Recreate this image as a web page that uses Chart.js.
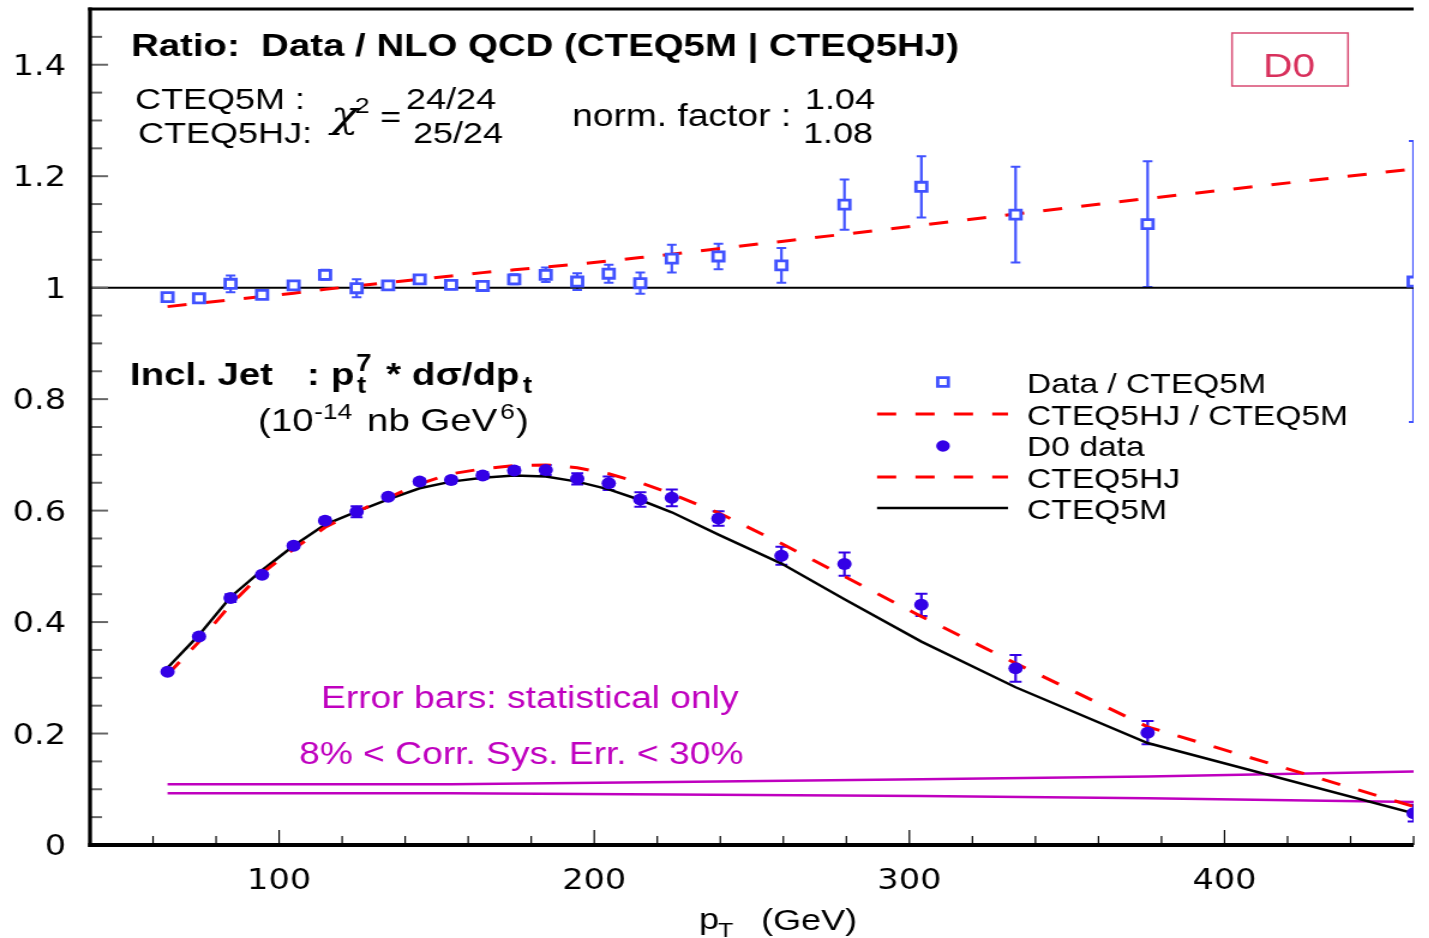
<!DOCTYPE html>
<html>
<head>
<meta charset="utf-8">
<title>D0 inclusive jet cross section / NLO QCD</title>
<script src="https://cdn.jsdelivr.net/npm/chart.js@4.4.0/dist/chart.umd.min.js"></script>
<style>
  html, body { margin: 0; padding: 0; background: #fff; overflow: hidden; }
  /* the original picture is stretched horizontally, so draw narrow and stretch */
  #wrap { width: 1191px; height: 938px; transform: scaleX(1.2); transform-origin: 0 0; }
</style>
</head>
<body>
<div id="wrap"><canvas id="chart" width="1191" height="938"></canvas></div>
<script>
// ---- data ----
// bin centres (GeV)
const ptBins = [64.6, 74.6, 84.6, 94.6, 104.6, 114.6, 124.6, 134.6, 144.6, 154.6, 164.6, 174.6,
                184.6, 194.6, 204.6, 214.6, 224.6, 239.4, 259.4, 279.4, 303.8, 333.7, 375.6, 460];

// Data / CTEQ5M (open squares)
const ratioData = [0.983, 0.981, 1.007, 0.987, 1.004, 1.023, 0.999, 1.004, 1.015, 1.005, 1.003, 1.015,
                   1.023, 1.011, 1.025, 1.008, 1.052, 1.056, 1.040, 1.149, 1.181, 1.131, 1.114, 1.011];
const ratioErr  = [0.004, 0.007, 0.015, 0.004, 0.007, 0.009, 0.016, 0.004, 0.007, 0.008, 0.009, 0.009,
                   0.013, 0.015, 0.016, 0.019, 0.025, 0.023, 0.031, 0.045, 0.055, 0.086, 0.113, 0.252];

// D0 data: pt^7 * dsigma/dpt (1e-14 nb GeV^6)
const d0Data = [0.311, 0.374, 0.443, 0.485, 0.537, 0.582, 0.598, 0.625, 0.652, 0.655, 0.663, 0.672,
                0.673, 0.657, 0.649, 0.620, 0.623, 0.586, 0.519, 0.504, 0.431, 0.317, 0.2016, 0.057];
const d0Err  = [0.002, 0.003, 0.007, 0.002, 0.004, 0.005, 0.010, 0.003, 0.005, 0.005, 0.006, 0.006,
                0.009, 0.010, 0.012, 0.013, 0.015, 0.013, 0.016, 0.021, 0.020, 0.024, 0.021, 0.015];

// NLO QCD predictions
const cteq5m  = [0.318, 0.377, 0.445, 0.493, 0.537, 0.575, 0.598, 0.620, 0.640, 0.652, 0.659, 0.663,
                 0.661, 0.652, 0.638, 0.619, 0.597, 0.557, 0.505, 0.441, 0.365, 0.283, 0.183, 0.057];
const cteq5hj = [0.306, 0.365, 0.431, 0.488, 0.531, 0.570, 0.598, 0.623, 0.648, 0.666, 0.675, 0.681,
                 0.682, 0.677, 0.666, 0.650, 0.630, 0.596, 0.541, 0.482, 0.410, 0.326, 0.212, 0.069];
const hjOverM = [0.966, 0.972, 0.978, 0.984, 0.990, 0.997, 1.003, 1.009, 1.015, 1.021, 1.027, 1.032,
                 1.037, 1.042, 1.048, 1.054, 1.060, 1.070, 1.083, 1.096, 1.112, 1.132, 1.160, 1.213];

// correlated systematic error band (magenta)
const sysPt    = [64.6, 154.6, 224.6, 303.8, 375.6, 460];
const sysUpper = [0.109, 0.109, 0.113, 0.118, 0.123, 0.132];
const sysLower = [0.093, 0.093, 0.0905, 0.088, 0.084, 0.077];

// reference line at ratio = 1
const unityPt  = [40, 460];
const unityVal = [1, 1];

const xTicks = [100, 200, 300, 400];
const xTickLabels = ['100', '200', '300', '400'];
const yTicks = [0, 0.2, 0.4, 0.6, 0.8, 1, 1.2, 1.4];
const yTickLabels = ['0', '0.2', '0.4', '0.6', '0.8', '1', '1.2', '1.4'];

// ---- styling ----
const S = 1.2;                 // horizontal stretch of the picture
const SQ_BLUE = '#4152ff';
const DOT_BLUE = '#3300e6';
const RED = '#ff0000';
const MAGENTA = '#bf00bf';
const D0_RED = '#d8305c';
const SANS = '"Liberation Sans", Arial, Helvetica, sans-serif';

const pts = (xs, ys) => xs.map((x, i) => ({ x: x, y: ys[i] }));

// error bars, drawn under the markers
const errorBars = {
  id: 'errorBars',
  beforeDatasetsDraw(chart) {
    const { ctx, chartArea: a, scales: { x, y } } = chart;
    ctx.save();
    ctx.beginPath();
    ctx.rect(a.left, a.top, a.right - a.left, a.bottom - a.top);
    ctx.clip();
    chart.data.datasets.forEach(ds => {
      if (!ds.errors) return;
      ctx.strokeStyle = ds.errColor;
      ds.data.forEach((p, i) => {
        const e = ds.errors[i];
        const px = x.getPixelForValue(p.x);
        const yLo = y.getPixelForValue(p.y - e);
        const yHi = y.getPixelForValue(p.y + e);
        ctx.lineWidth = 2.2;
        ctx.beginPath();
        ctx.moveTo(px, yLo); ctx.lineTo(px, yHi);
        ctx.stroke();
        ctx.lineWidth = 2;
        ctx.beginPath();
        ctx.moveTo(px - ds.capHalf, yLo); ctx.lineTo(px + ds.capHalf, yLo);
        ctx.moveTo(px - ds.capHalf, yHi); ctx.lineTo(px + ds.capHalf, yHi);
        ctx.stroke();
      });
    });
    ctx.restore();
  }
};

function txt(ctx, s, xImg, yBase, font, color, align) {
  ctx.font = font;
  ctx.fillStyle = color || '#000';
  ctx.textAlign = align || 'left';
  ctx.textBaseline = 'alphabetic';
  ctx.fillText(s, xImg / S, yBase);
}

// frame, inward ticks, legend and annotations
const decorations = {
  id: 'decorations',
  afterDraw(chart) {
    const { ctx, chartArea: a, scales: { x, y } } = chart;
    ctx.save();

    // x ticks (every 20 GeV, longer at 100s)
    ctx.strokeStyle = '#000';
    ctx.lineWidth = 1.2;
    for (let v = 60; v <= 460; v += 20) {
      const px = x.getPixelForValue(v);
      const len = v % 100 === 0 ? 15 : 9;
      ctx.beginPath();
      ctx.moveTo(px, a.bottom); ctx.lineTo(px, a.bottom - len);
      ctx.stroke();
    }
    // y ticks (every 0.05, longer at 0.2)
    ctx.strokeStyle = '#666';
    ctx.lineWidth = 2;
    for (let i = 1; i < 30; i++) {
      const py = y.getPixelForValue(i * 0.05);
      const len = i % 4 === 0 ? 15 : 10;
      ctx.beginPath();
      ctx.moveTo(a.left, py); ctx.lineTo(a.left + len, py);
      ctx.stroke();
    }

    // frame
    ctx.strokeStyle = '#000';
    ctx.lineWidth = 3.3;
    ctx.beginPath(); ctx.moveTo(a.left, a.top - 1.5); ctx.lineTo(a.left, a.bottom + 2); ctx.stroke();
    ctx.lineWidth = 4;
    ctx.beginPath(); ctx.moveTo(a.left - 1.6, a.bottom); ctx.lineTo(a.right, a.bottom); ctx.stroke();
    ctx.lineWidth = 3;
    ctx.beginPath(); ctx.moveTo(a.left - 1.6, a.top); ctx.lineTo(a.right, a.top); ctx.stroke();

    // titles
    txt(ctx, 'Ratio:  Data / NLO QCD (CTEQ5M | CTEQ5HJ)', 131, 56, 'bold 32px ' + SANS);
    txt(ctx, 'CTEQ5M :', 135, 109, '30px ' + SANS);
    txt(ctx, 'CTEQ5HJ:', 138, 143, '30px ' + SANS);
    txt(ctx, 'χ', 331, 127, 'italic 38px "DejaVu Serif", "Liberation Serif", serif');
    txt(ctx, '2', 355, 113, '22px ' + SANS);
    txt(ctx, '=', 380, 127, '30px ' + SANS);
    txt(ctx, '24/24', 406, 109, '30px ' + SANS);
    txt(ctx, '25/24', 413, 143, '30px ' + SANS);
    txt(ctx, 'norm. factor :', 572, 126, '31px ' + SANS);
    txt(ctx, '1.04', 805, 109, '30px ' + SANS);
    txt(ctx, '1.08', 803, 143, '30px ' + SANS);

    // D0 box
    ctx.strokeStyle = '#d84a72';
    ctx.lineWidth = 1.5;
    ctx.strokeRect(1232 / S, 33, (1348 - 1232) / S, 53);
    txt(ctx, 'D0', 1289, 77, '34px ' + SANS, D0_RED, 'center');

    // lower panel title
    const B32 = 'bold 32px ' + SANS, B23 = 'bold 23px ' + SANS;
    txt(ctx, 'Incl. Jet', 130, 385, B32);
    txt(ctx, ':', 307, 385, B32);
    txt(ctx, 'p', 331, 385, B32);
    txt(ctx, '7', 356, 371, B23);
    txt(ctx, 't', 357, 393, B23);
    txt(ctx, '*', 386, 385, B32);
    txt(ctx, 'dσ/dp', 412, 385, B32);
    txt(ctx, 't', 523, 393, B23);
    txt(ctx, '(10', 258, 431, '32px ' + SANS);
    txt(ctx, '-14', 314, 419, '22px ' + SANS);
    txt(ctx, 'nb GeV', 367, 431, '32px ' + SANS);
    txt(ctx, '6', 500, 419, '22px ' + SANS);
    txt(ctx, ')', 516, 431, '32px ' + SANS);

    // notes
    txt(ctx, 'Error bars: statistical only', 321, 708, '31px ' + SANS, MAGENTA);
    txt(ctx, '8% < Corr. Sys. Err. < 30%', 299, 764, '31px ' + SANS, MAGENTA);

    // x axis title
    txt(ctx, 'p', 699, 929, '30px ' + SANS);
    txt(ctx, 'T', 718, 937, '21px ' + SANS);
    txt(ctx, '(GeV)', 761, 930, '30px ' + SANS);

    // legend
    const lx = 943 / S;
    ctx.strokeStyle = SQ_BLUE;
    ctx.lineWidth = 2.8;
    ctx.fillStyle = '#fff';
    ctx.beginPath(); ctx.rect(lx - 4.4, 382 - 4.4, 8.8, 8.8); ctx.fill(); ctx.stroke();
    ctx.fillStyle = DOT_BLUE;
    ctx.beginPath(); ctx.arc(lx, 446, 5.7, 0, Math.PI * 2); ctx.fill();
    const legLine = (yy, color, dash, w) => {
      ctx.strokeStyle = color;
      ctx.lineWidth = w;
      ctx.setLineDash(dash);
      ctx.beginPath(); ctx.moveTo(877 / S, yy); ctx.lineTo(1008 / S, yy); ctx.stroke();
      ctx.setLineDash([]);
    };
    legLine(414, RED, [16, 16], 3);
    legLine(477, RED, [16, 16], 3);
    legLine(508, '#000', [], 2.5);
    const LF = '28px ' + SANS;
    txt(ctx, 'Data / CTEQ5M', 1027, 393, LF);
    txt(ctx, 'CTEQ5HJ / CTEQ5M', 1027, 425, LF);
    txt(ctx, 'D0 data', 1027, 456, LF);
    txt(ctx, 'CTEQ5HJ', 1027, 488, LF);
    txt(ctx, 'CTEQ5M', 1027, 519, LF);

    ctx.restore();
  }
};

const noMarks = { pointRadius: 0, tension: 0, fill: false };

new Chart(document.getElementById('chart'), {
  type: 'line',
  data: {
    datasets: [
      {
        label: 'D0 data', data: pts(ptBins, d0Data), errors: d0Err, errColor: DOT_BLUE, capHalf: 5,
        showLine: false, pointStyle: 'circle', pointRadius: 6, pointBorderWidth: 0,
        pointBackgroundColor: DOT_BLUE, borderColor: DOT_BLUE
      },
      {
        label: 'Data / CTEQ5M', data: pts(ptBins, ratioData), errors: ratioErr, errColor: SQ_BLUE, capHalf: 4,
        showLine: false, pointStyle: 'rect', pointRadius: 6.4, pointBorderWidth: 2.8,
        pointBackgroundColor: '#fff', pointBorderColor: SQ_BLUE, borderColor: SQ_BLUE
      },
      Object.assign({ label: 'CTEQ5HJ / CTEQ5M', data: pts(ptBins, hjOverM), borderColor: RED,
        borderWidth: 3, borderDash: [16, 16] }, noMarks),
      Object.assign({ label: 'CTEQ5HJ', data: pts(ptBins, cteq5hj), borderColor: RED,
        borderWidth: 3, borderDash: [16, 16] }, noMarks),
      Object.assign({ label: 'CTEQ5M', data: pts(ptBins, cteq5m), borderColor: '#000',
        borderWidth: 2.5 }, noMarks),
      Object.assign({ label: 'unity', data: pts(unityPt, unityVal), borderColor: '#000',
        borderWidth: 2 }, noMarks),
      Object.assign({ label: 'sys upper', data: pts(sysPt, sysUpper), borderColor: MAGENTA,
        borderWidth: 2.5 }, noMarks),
      Object.assign({ label: 'sys lower', data: pts(sysPt, sysLower), borderColor: MAGENTA,
        borderWidth: 2.5 }, noMarks)
    ]
  },
  options: {
    responsive: false,
    animation: false,
    devicePixelRatio: 1,
    events: [],
    layout: { autoPadding: false, padding: { left: 0, right: 13, top: 9, bottom: 0 } },
    plugins: { legend: { display: false }, tooltip: { enabled: false } },
    scales: {
      x: {
        type: 'linear', min: 40, max: 460,
        afterFit: s => { s.height = 93; s.paddingLeft = 0; s.paddingRight = 0; },
        afterBuildTicks: s => { s.ticks = xTicks.map(v => ({ value: v })); },
        grid: { display: false, drawTicks: false },
        border: { display: false },
        ticks: {
          padding: 20, maxRotation: 0, autoSkip: false, color: '#000',
          font: { family: 'DejaVu Sans', size: 28 },
          callback: (v, i) => xTickLabels[i]
        }
      },
      y: {
        type: 'linear', min: 0, max: 1.5,
        afterFit: s => { s.width = 75; s.paddingTop = 0; s.paddingBottom = 0; },
        afterBuildTicks: s => { s.ticks = yTicks.map(v => ({ value: v })); },
        grid: { display: false, drawTicks: false },
        border: { display: false },
        ticks: {
          padding: 20, labelOffset: 3, color: '#000',
          font: { family: 'DejaVu Sans', size: 28 },
          callback: (v, i) => yTickLabels[i]
        }
      }
    }
  },
  plugins: [errorBars, decorations]
});
</script>
</body>
</html>
